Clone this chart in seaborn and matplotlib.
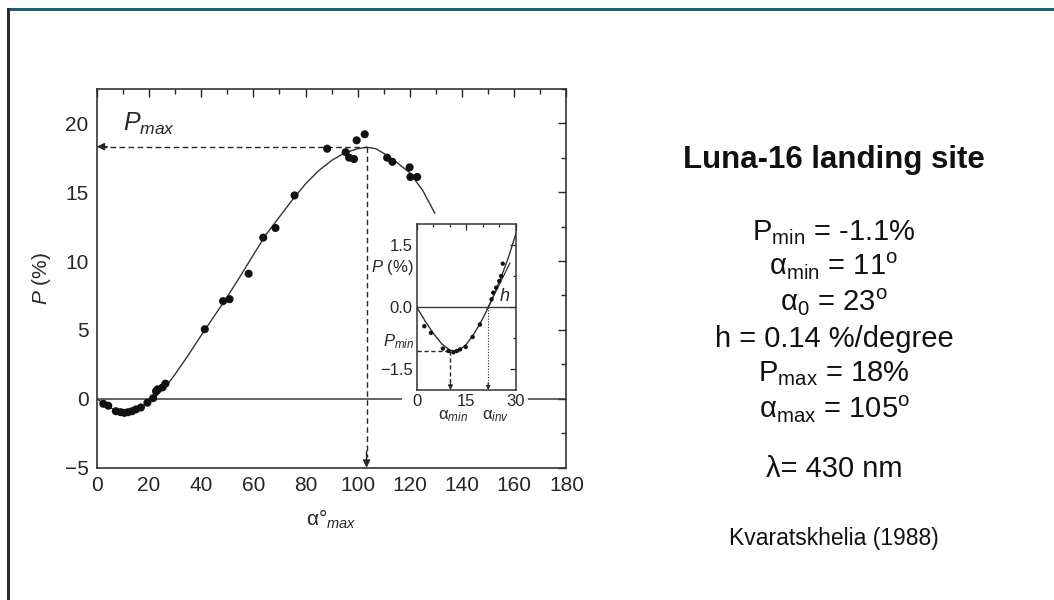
import matplotlib
matplotlib.use("Agg")
import matplotlib.pyplot as plt
import seaborn as sns
import numpy as np
import pandas as pd
from matplotlib.patches import Rectangle
from matplotlib.ticker import MultipleLocator

# ---------------- data ----------------
main_alpha = [2.5, 4.4, 7.3, 9.1, 10.6, 12.0, 13.5, 15.0, 16.9, 19.4, 21.6, 22.7,
              23.3, 25.2, 26.3, 41.4, 48.4, 50.9, 58.2, 63.8, 68.5, 75.8, 88.3,
              95.4, 96.7, 98.6, 99.6, 102.7, 111.3, 113.3, 119.9, 120.2, 122.8]
main_pol = [-0.36, -0.5, -0.9, -0.97, -1.02, -0.97, -0.9, -0.77, -0.63, -0.28, 0.05,
            0.55, 0.69, 0.83, 1.1, 5.05, 7.09, 7.23, 9.08, 11.7, 12.4, 14.76, 18.15,
            17.9, 17.5, 17.4, 18.76, 19.2, 17.5, 17.2, 16.8, 16.1, 16.1]

fit_alpha = [0, 2.5, 5, 7.5, 10, 12.5, 15, 17.5, 20, 22.5, 25, 27.5, 30, 35, 40, 45,
             50, 55, 60, 65, 70, 75, 80, 85, 90, 95, 100, 103.4, 107, 111, 115,
             120, 125, 129.6]
fit_pol = [0.0, -0.33, -0.63, -0.88, -1.04, -1.06, -0.9, -0.62, -0.27, 0.14, 0.62,
           1.15, 1.78, 3.15, 4.6, 6.0, 7.4, 8.9, 10.45, 11.95, 13.2, 14.45, 15.6,
           16.55, 17.3, 17.85, 18.15, 18.26, 18.15, 17.7, 17.15, 16.4, 15.1, 13.46]

inset_alpha = [2.3, 4.3, 7.9, 9.6, 11.1, 12.1, 13.1, 14.8, 16.9, 19.1, 22.6, 23.1,
               24.0, 24.95, 25.5, 26.0]
inset_pol = [-0.46, -0.62, -1.0, -1.06, -1.09, -1.06, -1.02, -0.96, -0.72, -0.42,
             0.19, 0.35, 0.47, 0.63, 0.75, 1.05]

p_max_val = 18.3
alpha_at_pmax = 103.4
p_min_val = -1.05
alpha_at_pmin = 10.2
alpha_inversion = 21.6
tangent_alpha = [21.2, 28.2]
tangent_pol = [-0.06, 1.07]

main_xticks = [0, 20, 40, 60, 80, 100, 120, 140, 160, 180]
main_yticks = [-5, 0, 5, 10, 15, 20]
inset_xticks = [0, 15, 30]
inset_yticks = [-1.5, 0.0, 1.5]
inset_yticklabels = ["\u22121.5", "0.0", "1.5"]

title_text = "Luna-16 landing site"
info_lines = [
    "P$_{\\rm min}$ = -1.1%",
    "\u03b1$_{\\rm min}$ = 11$^{\\rm o}$",
    "\u03b1$_{\\rm 0}$ = 23$^{\\rm o}$",
    "h = 0.14 %/degree",
    "P$_{\\rm max}$ = 18%",
    "\u03b1$_{\\rm max}$ = 105$^{\\rm o}$",
]
wavelength_text = "\u03bb= 430 nm"
source_text = "Kvaratskhelia (1988)"

# ---------------- style ----------------
sns.set_theme(style="white")
plt.rcParams["font.family"] = ["Liberation Sans", "DejaVu Sans"]
plt.rcParams["mathtext.fontset"] = "custom"
plt.rcParams["mathtext.rm"] = "Liberation Sans"
plt.rcParams["mathtext.it"] = "Liberation Sans:italic"
plt.rcParams["mathtext.bf"] = "Liberation Sans:bold"

ink = "#262626"
W, H = 1054, 600

fig = plt.figure(figsize=(W / 100, H / 100), dpi=100)
fig.patch.set_facecolor("white")

# ---------------- main axes ----------------
ax = fig.add_axes([96.8 / W, 1 - 467.7 / H, (566.4 - 96.8) / W, (467.7 - 88.8) / H])
ax.set_facecolor("white")

ax.axhline(0, color="#3a3a3a", lw=1.1, zorder=1)
sns.lineplot(x=fit_alpha, y=fit_pol, ax=ax, sort=False, estimator=None,
             color="#333333", lw=1.0, zorder=2)
sns.scatterplot(x=main_alpha, y=main_pol, ax=ax, s=34, color="#111111",
                edgecolor="none", linewidth=0, zorder=3)

dash = (0, (4, 2.5))
ax.plot([1.5, alpha_at_pmax], [p_max_val, p_max_val], ls=dash, color=ink, lw=1.0, zorder=2)
ax.plot([alpha_at_pmax, alpha_at_pmax], [p_max_val, -4.2], ls=dash, color=ink, lw=1.0, zorder=2)
ax.annotate("", xy=(0, p_max_val), xytext=(4, p_max_val),
            arrowprops=dict(arrowstyle="-|>", color=ink, lw=1.0, mutation_scale=11,
                            shrinkA=0, shrinkB=0))
ax.annotate("", xy=(alpha_at_pmax, -5), xytext=(alpha_at_pmax, -3.8),
            arrowprops=dict(arrowstyle="-|>", color=ink, lw=1.0, mutation_scale=11,
                            shrinkA=0, shrinkB=0))
ax.text(9.9, 19.47, "$P_{max}$", fontsize=18, color=ink, ha="left", va="baseline")

ax.set_xlim(0, 180)
ax.set_ylim(-5, 22.5)
ax.set_xticks(main_xticks)
ax.set_yticks(main_yticks)
ax.set_yticklabels(["\u22125", "0", "5", "10", "15", "20"])
ax.xaxis.set_minor_locator(MultipleLocator(10))
ax.yaxis.set_minor_locator(MultipleLocator(2.5))
ax.tick_params(which="both", direction="in", top=True, right=True, colors=ink,
               labelsize=15, width=1.0)
ax.tick_params(which="major", length=6, pad=6)
ax.tick_params(which="minor", length=3.5)
for s in ax.spines.values():
    s.set_color("#333333")
    s.set_linewidth(1.2)
ax.set_xlabel("\u03b1\u00b0$_{\\mathit{max}}$", fontsize=15, color=ink, labelpad=9)
ax.set_ylabel("$\\mathit{P}$ (%)", fontsize=15, color=ink, labelpad=8)

# white patch behind inset tick labels (breaks the zero line)
fig.add_artist(Rectangle((402 / W, 1 - 428 / H), (528 - 402) / W, (428 - 392) / H,
                         facecolor="white", edgecolor="none",
                         transform=fig.transFigure, zorder=2))

# ---------------- inset ----------------
ax_in = fig.add_axes([416.7 / W, 1 - 390 / H, (516 - 416.7) / W, (390 - 224.3) / H], zorder=3)
ax_in.set_facecolor("white")
ax_in.axhline(0, color="#3a3a3a", lw=1.0, zorder=1)
sns.lineplot(x=fit_alpha, y=fit_pol, ax=ax_in, sort=False, estimator=None,
             color="#333333", lw=1.0, zorder=2)
sns.scatterplot(x=inset_alpha, y=inset_pol, ax=ax_in, s=10, color="#111111",
                edgecolor="none", linewidth=0, zorder=3)
ax_in.plot(tangent_alpha, tangent_pol, color="#333333", lw=0.9, zorder=2)
ax_in.plot([0, alpha_at_pmin], [p_min_val, p_min_val], ls=(0, (3, 2)), color=ink, lw=1.0)
ax_in.plot([alpha_at_pmin, alpha_at_pmin], [p_min_val, -1.8], ls=(0, (3, 2)), color=ink, lw=1.0)
ax_in.annotate("", xy=(alpha_at_pmin, -2), xytext=(alpha_at_pmin, -1.75),
               arrowprops=dict(arrowstyle="-|>", color=ink, lw=0.8, mutation_scale=7,
                               shrinkA=0, shrinkB=0))
ax_in.plot([alpha_inversion, alpha_inversion], [0, -1.9], ls=(0, (1, 1.5)), color=ink, lw=0.8)
ax_in.annotate("", xy=(alpha_inversion, -2), xytext=(alpha_inversion, -1.82),
               arrowprops=dict(arrowstyle="-|>", color=ink, lw=0.8, mutation_scale=6,
                               shrinkA=0, shrinkB=0))
ax_in.text(26.6, 0.25, "$\\mathit{h}$", fontsize=13, color=ink, ha="center", va="center")
ax_in.text(-0.9, 0.96, "$\\mathit{P}$ (%)", fontsize=12, color=ink, ha="right", va="center",
           clip_on=False)
ax_in.text(-0.6, -0.95, "$\\mathit{P}_{min}$", fontsize=12, color=ink, ha="right",
           va="baseline", clip_on=False)
ax_in.text(11.0, -2.62, "\u03b1$_{\\mathit{min}}$", fontsize=12, color=ink, ha="center",
           va="center", clip_on=False)
ax_in.text(23.8, -2.62, "\u03b1$_{\\mathit{inv}}$", fontsize=12, color=ink, ha="center",
           va="center", clip_on=False)

ax_in.set_xlim(0, 30)
ax_in.set_ylim(-2, 2)
ax_in.set_xticks(inset_xticks)
ax_in.set_yticks(inset_yticks)
ax_in.set_yticklabels(inset_yticklabels)
ax_in.xaxis.set_minor_locator(MultipleLocator(5))
ax_in.yaxis.set_minor_locator(MultipleLocator(0.75))
ax_in.tick_params(which="both", direction="in", top=True, right=True, colors=ink,
                  labelsize=12, width=0.9)
ax_in.tick_params(which="major", length=4, pad=3)
ax_in.tick_params(which="minor", length=2.5)
ax_in.set_xlabel("")
ax_in.set_ylabel("")
for s in ax_in.spines.values():
    s.set_color("#333333")
    s.set_linewidth(1.1)

# ---------------- right-hand text ----------------
cx = 834 / W
fig.text(cx, 1 - 168.3 / H, title_text, fontsize=22.5, fontweight="bold", color="#111111",
         ha="center", va="baseline")
info_baselines = [240, 275, 311.7, 346.7, 381.7, 418.3]
for line, yb in zip(info_lines, info_baselines):
    fig.text(cx, 1 - yb / H, line, fontsize=21, color="#111111", ha="center", va="baseline")
fig.text(cx, 1 - 476.7 / H, wavelength_text, fontsize=21, color="#111111",
         ha="center", va="baseline")
fig.text(cx, 1 - 545 / H, source_text, fontsize=16.5, color="#111111",
         ha="center", va="baseline")

# ---------------- slide frame ----------------
fig.add_artist(Rectangle((10 / W, 1 - 11 / H), 1, 3 / H, facecolor="#1d6274",
                         edgecolor="none", transform=fig.transFigure, zorder=5))
fig.add_artist(Rectangle((7 / W, 0), 3 / W, 1 - 8 / H, facecolor="#2b2b2b",
                         edgecolor="none", transform=fig.transFigure, zorder=5))

fig.savefig("out.png", dpi=100, facecolor="white")
